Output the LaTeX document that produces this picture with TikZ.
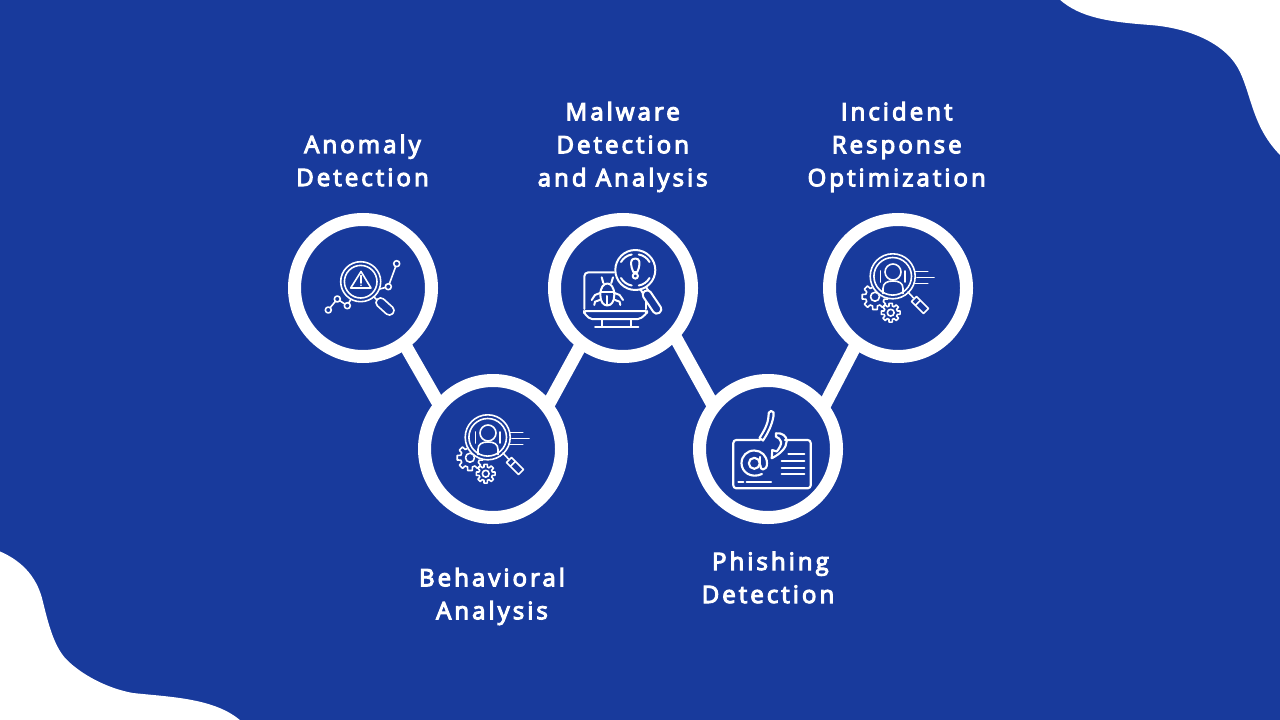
\documentclass[tikz,border=0pt]{standalone}
\usepackage{fontspec}
\setmainfont{Open Sans}
\newfontfamily\lab{Open Sans}[LetterSpace=12.7,FakeBold=4.5]
\definecolor{bluebg}{HTML}{183A9C}
\tikzset{
  ringnode/.style={circle,draw=white,fill=bluebg,line width=9.75pt,minimum size=102.75pt,inner sep=0pt},
  link/.style={draw=white,line width=9.75pt,line cap=butt,shorten >=-5pt,shorten <=-5pt},
  lbl/.style={text=white,align=center,inner sep=0pt,font=\lab\fontsize{18}{24.75}\selectfont},
  ic/.style={draw=white,line width=1.2pt,line cap=round,line join=round},
  icb/.style={draw=white,line width=1.6pt,line cap=round,line join=round},
  icc/.style={draw=white,line width=1.5pt,line cap=round,line join=round},
}
\newcommand\geartoothed[4]{%
  \begin{scope}[shift={(#1,#2)}]
  \draw[ic,fill=bluebg] (-22.5:#3)
    \foreach \a in {0,45,...,315}{ -- (\a-22.5:#3) -- (\a-15:#3) -- (\a-10:#4) -- (\a+10:#4) -- (\a+15:#3) -- (\a+22.5:#3)} -- cycle;
  \end{scope}}
\newcommand\personicon{%
  \geartoothed{470}{457.7}{9.5}{13}
  \draw[ic] (470,457.7) circle (4.5);
  \fill[bluebg] (487.7,437.3) circle (23);
  \draw[ic] (487.7,437.3) circle (22.5);
  \draw[ic] (487.7,437.3) circle (18.8);
  \draw[ic] (488,433) circle (8);
  \draw[ic] (478,454.5) -- (478,449.5) .. controls (478,444) and (482,442) .. (488,442) .. controls (494,442) and (498,444) .. (498,449.5) -- (498,454.5);
  \draw[ic] (475.5,432) -- (475.5,443);
  \draw[ic] (500,432) -- (500,443);
  \draw[ic] (510,432.3) -- (522.7,432.3);
  \draw[ic] (512,438.3) -- (529,438.3);
  \draw[ic] (510,444.3) -- (522.7,444.3);
  \draw[ic] (503,453) -- (508.5,459);
  \begin{scope}[shift={(515,466)},rotate=-45]
    \draw[ic] (-8.5,-3.5) rectangle (8.5,3.5);
    \draw[ic] (-3,-3.5) -- (-3,3.5);
  \end{scope}
  \geartoothed{485.7}{473.7}{6.8}{9.5}
  \draw[ic] (485.7,473.7) circle (3.4);
}
\begin{document}
\begin{tikzpicture}[x=0.75pt,y=-0.75pt]
\useasboundingbox (0,0) rectangle (1280,720);
\fill[bluebg] (0,0) rectangle (1280,720);
% corner blobs
\fill[white] (1059,-1) .. controls (1080,18) and (1110,22) .. (1150,25) .. controls (1190,28) and (1227,44) .. (1240,72) .. controls (1252,98) and (1253,128) .. (1281,156) -- (1281,-1) -- cycle;
\fill[white] (-1,551) .. controls (25,562) and (38,580) .. (43,602) .. controls (49,627) and (55,648) .. (67,660) .. controls (80,673) and (105,688) .. (133,693) .. controls (170,697) and (215,698) .. (241,721) -- (-1,721) -- cycle;
% ring nodes
\node[ringnode] (a) at (363,288) {};
\node[ringnode] (b) at (493,449) {};
\node[ringnode] (c) at (623,288) {};
\node[ringnode] (d) at (768,449) {};
\node[ringnode] (e) at (898,288) {};
% connectors
\draw[link] (a.-54.5) -- (b.139.3);
\draw[link] (b.40.7) -- (c.234.8);
\draw[link] (c.-44) -- (d.140);
\draw[link] (d.39.8) -- (e.234.8);
% labels
\node[lbl] (la) at (362.5,160.5) {Anomaly\\Detection};
\node[lbl] (lb) at (492,596.5) {Behavioral\\Analysis};
\node[lbl] (lc) at (622.7,147) {Malware\\Detection\\and Analysis};
\node[lbl] (ld) at (768,577.5) {\hspace{0.2em}Phishing\\Detection};
\node[lbl] (le) at (896.7,147) {Incident\\Response\\Optimization};
% icon 1
\draw[ic] (328.3,310) -- (337.3,299) -- (347.3,305.7) -- (351,299);
\draw[ic] (376,290) -- (388.3,286.7) -- (396.7,263.7);
\draw[ic,fill=bluebg] (328.3,310) circle (3);
\draw[ic,fill=bluebg] (337.3,299) circle (3);
\draw[ic,fill=bluebg] (347.3,305.7) circle (3);
\draw[ic,fill=bluebg] (388.3,286.7) circle (3);
\draw[ic,fill=bluebg] (396.7,263.7) circle (3);
\draw[ic,fill=bluebg] (360.7,281.7) circle (20);
\draw[ic] (360.7,281.7) circle (16.3);
\draw[ic] (361,271.5) -- (350.7,288) -- (371,288) -- cycle;
\draw[ic] (361,275.5) -- (361,283);
\fill[white] (361,285.3) circle (0.9);
\draw[ic] (373.5,296.5) -- (377,300);
\begin{scope}[shift={(385,306.5)},rotate=-42]
  \draw[ic,rounded corners=3.3pt] (-10.5,-4.6) rectangle (10.5,4.6);
\end{scope}
% icon 2 and 5
\personicon
\begin{scope}[shift={(405,-161)}]
  \personicon
\end{scope}
% icon 3
\draw[icc] (614,272.3) -- (588.3,272.3) arc (270:180:4) -- (584.3,309);
\draw[icc] (646,296) -- (646,309);
\draw[icc,rounded corners=1.5pt] (584,311) -- (647,311) -- (647,313) -- (640,319) -- (590,319) -- (584,313) -- cycle;
\draw[icc] (601.7,319) -- (601.7,327);
\draw[icc] (631,319) -- (631,327);
\draw[icc] (595,327.3) -- (638.3,327.3);
\draw[icc] (600.3,295) .. controls (600.3,287) and (604,283.5) .. (607.3,283.5) .. controls (610.6,283.5) and (614.3,287) .. (614.3,295) .. controls (614.3,302) and (611,305.5) .. (607.3,305.5) .. controls (603.6,305.5) and (600.3,302) .. (600.3,295) -- cycle;
\draw[icc] (600.6,291.5) -- (614,291.5);
\draw[icc] (607.3,296) -- (607.3,305);
\draw[icc] (601.7,277.3) -- (603.3,283);
\draw[icc] (613,277.3) -- (611.3,283);
\draw[icc] (600,293) -- (595,295) -- (591.7,300);
\draw[icc] (599.7,300) -- (595,301.7) -- (594.3,305);
\draw[icc] (614.6,293) -- (619.6,295) -- (623,300);
\draw[icc] (615,300) -- (619.6,301.7) -- (620.3,305);
\draw[icc,fill=bluebg] (635.3,270) circle (20);
\draw[icc] (621,262) arc (-150:-100:15.5);
\draw[icc] (621,278) arc (150:100:15.5);
\draw[icc] (649.5,278) arc (30:80:15.5);
\draw[icc] (649.5,262) arc (-30:-80:15.5);
\draw[icc] (635.3,258.5) .. controls (630.5,258.5) and (630.5,263) .. (631.8,268) -- (633.3,272) -- (637.3,272) -- (638.8,268) .. controls (640,263) and (640,258.5) .. (635.3,258.5) -- cycle;
\draw[icc] (635.3,276) circle (2.6);
\draw[icc] (640.5,289.5) -- (643,293.5);
\draw[icc] (646,287) -- (648.5,291);
\begin{scope}[shift={(652,302)},rotate=-56]
  \draw[icc,fill=bluebg,rounded corners=3pt] (-13,-4.4) rectangle (13,4.4);
\end{scope}
% icon 4
\draw[icb,rounded corners=2.2pt] (760,440) -- (733.3,440) -- (733.3,488.3) -- (810.7,488.3) -- (810.7,440) -- (785,440);
\draw[icb] (771,411) .. controls (768.5,411) and (768.5,414) .. (768.5,416) .. controls (768,424) and (764,431) .. (759.5,438) -- (763,440.5) .. controls (768,433) and (772,425) .. (773.5,416) .. controls (774,413) and (774,411) .. (771,411) -- cycle;
\draw[icb] (776,433.3) .. controls (782,432.5) and (786.7,436) .. (786.7,441) .. controls (786.7,448) and (780,454) .. (771.7,458.3) -- (772.3,450) -- (776.7,451.5) .. controls (779.5,448) and (781.5,444.5) .. (781,441.7) .. controls (780.5,439) and (778,437.5) .. (776,436.7) -- cycle;
\draw[icb] (754.3,463.3) circle (5.5);
\draw[icb] (760.3,457) -- (760.3,465);
\draw[icb] (762,474) .. controls (751,479) and (741.5,472) .. (741.5,463.3) .. controls (741.5,456) and (747,450.5) .. (754.3,450.5) .. controls (761.5,450.5) and (767,456) .. (767,463.3) .. controls (767,467) and (765.5,469.5) .. (763,469.5) .. controls (761.3,469.5) and (760.3,468) .. (760.3,465);
\draw[icb] (788.3,454.3) -- (804.3,454.3);
\draw[icb] (781.7,461) -- (804.3,461);
\draw[icb] (781.7,467.7) -- (804.3,467.7);
\draw[icb] (781.7,474.3) -- (804.3,474.3);
\draw[icb] (738.3,482.3) -- (743.3,482.3);
\draw[icb] (746.7,482.3) -- (771,482.3);
\end{tikzpicture}
\end{document}
